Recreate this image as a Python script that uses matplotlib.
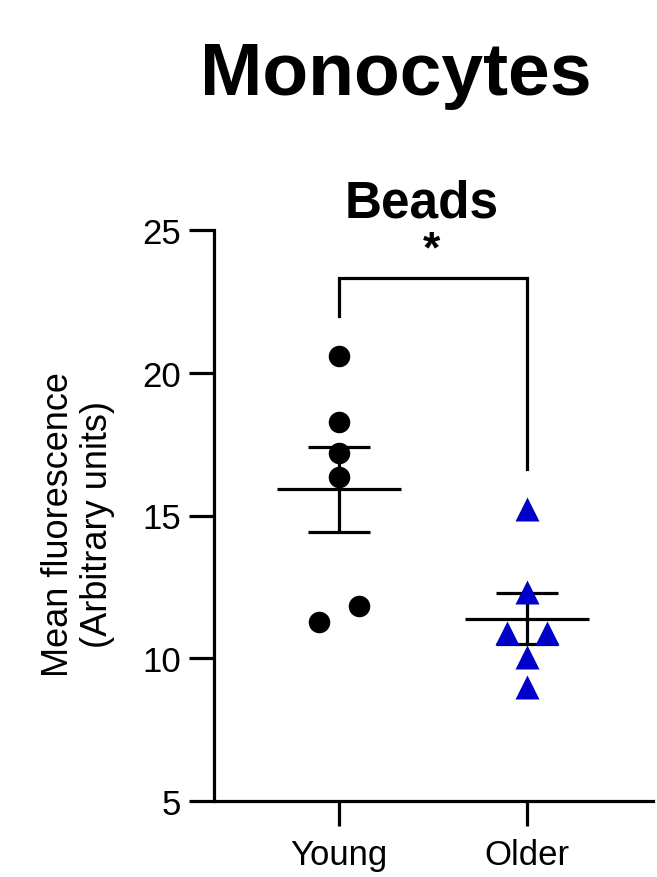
import numpy as np
import matplotlib
matplotlib.use('Agg')
import matplotlib.pyplot as plt

# ---- data ----
groups = ['Young', 'Older']
young_values = [20.60, 18.26, 17.19, 16.34, 11.82, 11.26]
older_values = [15.23, 12.31, 10.88, 10.88, 10.03, 8.98]
yticks = [5, 10, 15, 20, 25]
title = 'Monocytes'
subtitle = 'Beads'
ylabel = 'Mean fluorescence\n(Arbitrary units)'
sig_label = '*'

# ---- layout / style ----
young_jitter = [0, 0, 0, 0, 0.104, -0.104]
older_jitter = [0, 0, 0.104, -0.104, 0, 0]
blue = '#0000C8'
lw = 2.3
plt.rcParams['font.family'] = ['Liberation Sans', 'DejaVu Sans']

W, H = 657, 878
fig = plt.figure(figsize=(W / 100, H / 100), dpi=100)
ax_l, ax_r, ax_b, ax_t = 214, 653, 802, 231
ax = fig.add_axes([ax_l / W, 1 - ax_b / H, (ax_r - ax_l) / W, (ax_b - ax_t) / H])

ax.set_ylim(yticks[0], yticks[-1])
ax.set_xlim(-0.665, 1.67)

series = [(young_values, young_jitter, 'o', 'black', 15.5),
          (older_values, older_jitter, '^', blue, 17)]
for i, (vals, jit, mk, col, ms) in enumerate(series):
    vals = np.asarray(vals)
    xs = i + np.asarray(jit)
    ax.plot(xs, vals, linestyle='none', marker=mk, ms=ms, color=col,
            mec='none', zorder=3, clip_on=False)
    m = vals.mean()
    sem = vals.std(ddof=1) / np.sqrt(len(vals))
    ax.hlines(m, i - 0.33, i + 0.33, color='black', lw=lw, zorder=2)
    ax.hlines([m - sem, m + sem], i - 0.166, i + 0.166, color='black', lw=lw, zorder=2)
    ax.vlines(i, m - sem, m + sem, color='black', lw=lw, zorder=2)

# significance bracket
bt, bl, br = 23.31, 22.0, 16.63
ax.plot([0, 0, 1, 1], [bl, bt, bt, br], color='black', lw=lw,
        solid_joinstyle='miter', clip_on=False)
ax.text(0.49, 23.6, sig_label, ha='center', va='bottom', fontsize=32,
        fontweight='bold')

# axes styling
for s in ['top', 'right']:
    ax.spines[s].set_visible(False)
for s in ['left', 'bottom']:
    ax.spines[s].set_linewidth(lw)
ax.set_yticks(yticks)
ax.set_xticks(range(len(groups)))
ax.set_xticklabels(groups)
ax.tick_params(axis='both', length=18, width=lw, labelsize=25)
ax.tick_params(axis='y', pad=6)
ax.tick_params(axis='x', pad=9)

fig.text(78 / W, 1 - 525 / H, ylabel, rotation=90, ha='center', va='center',
         fontsize=26, multialignment='center', linespacing=1.12)
fig.text(396 / W, 1 - 95 / H, title, ha='center', va='baseline',
         fontsize=54, fontweight='bold')
fig.text(421.7 / W, 1 - 217 / H, subtitle, ha='center', va='baseline',
         fontsize=37, fontweight='bold')

fig.savefig('out.png', dpi=100, facecolor='white')
